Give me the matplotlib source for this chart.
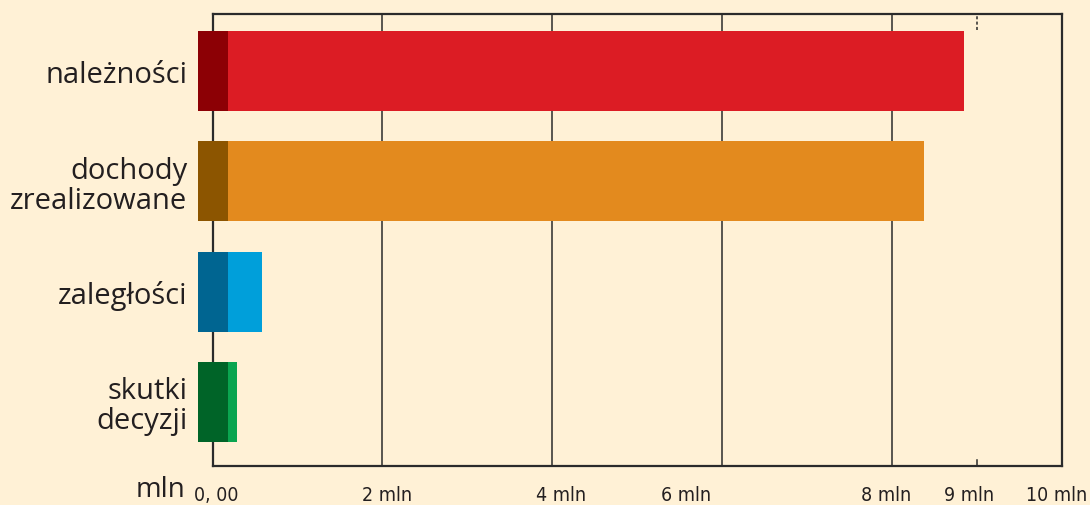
import matplotlib.pyplot as plt
import matplotlib.transforms as mtrans

categories = ["należności", "dochody\nzrealizowane", "zaległości", "skutki\ndecyzji"]
values = [8.85, 8.37, 0.58, 0.29]          # mln
light_cols = ["#DC1C24", "#E38A1E", "#009FDA", "#0AA550"]
dark_cols = ["#8C0005", "#8C5500", "#006591", "#006428"]
tick_vals = [0, 2, 4, 6, 8, 9, 10]
tick_labels = ["0, 00", "2 mln", "4 mln", "6 mln", "8 mln", "9 mln", "10 mln"]
grid_vals = [2, 4, 6, 8]

bg = "#FFF1D6"
line_col = "#2b2b2b"

fig = plt.figure(figsize=(10.9, 5.06), dpi=100, facecolor=bg)
ax = fig.add_axes([0.195, 0.0771, 0.7795, 0.8933], facecolor=bg)

start = -0.17   # bars start a bit left of zero
dark_w = 0.35
h = 0.727
for i, (v, lc, dc) in enumerate(zip(values, light_cols, dark_cols)):
    ax.barh(i, v - start, left=start, height=h, color=lc, zorder=3, clip_on=False)
    ax.barh(i, dark_w, left=start, height=h, color=dc, zorder=4, clip_on=False)

for g in grid_vals:
    ax.axvline(g, color=line_col, lw=1.1, zorder=1)
ax.axvline(9, ymin=0, ymax=0.014, color=line_col, lw=1.1, zorder=1)
ax.axvline(9, ymin=0.965, ymax=1, color=line_col, lw=1.1, ls=(0, (2, 1.5)), zorder=1)

ax.set_xlim(0, 10)
ax.set_ylim(3.582, -0.518)

for s in ax.spines.values():
    s.set_color(line_col)
    s.set_linewidth(1.6)
    s.set_zorder(2)

ax.set_yticks(range(len(categories)))
ax.set_yticklabels(categories, fontsize=21, family=["Open Sans", "DejaVu Sans"],
                   color="#231f20", linespacing=1.05)
ax.tick_params(axis="y", length=0, pad=18)

ax.set_xticks(tick_vals)
ax.set_xticklabels(tick_labels, fontsize=14, family="DejaVu Sans", stretch="condensed",
                   color="#231f20")
ax.tick_params(axis="x", length=0, pad=14)
shifts = [4, 5, 9, -36, -6, -8, -6]
for lab, dx in zip(ax.get_xticklabels(), shifts):
    lab.set_fontstretch("condensed")
    lab.set_transform(lab.get_transform() + mtrans.ScaledTranslation(dx / 100, 0, fig.dpi_scale_trans))

fig.text(185 / 1090, 1 - 490 / 506, "mln", ha="right", va="center", fontsize=20,
         family=["Open Sans", "DejaVu Sans"], color="#231f20")

fig.savefig("out.png", dpi=100, facecolor=bg)
